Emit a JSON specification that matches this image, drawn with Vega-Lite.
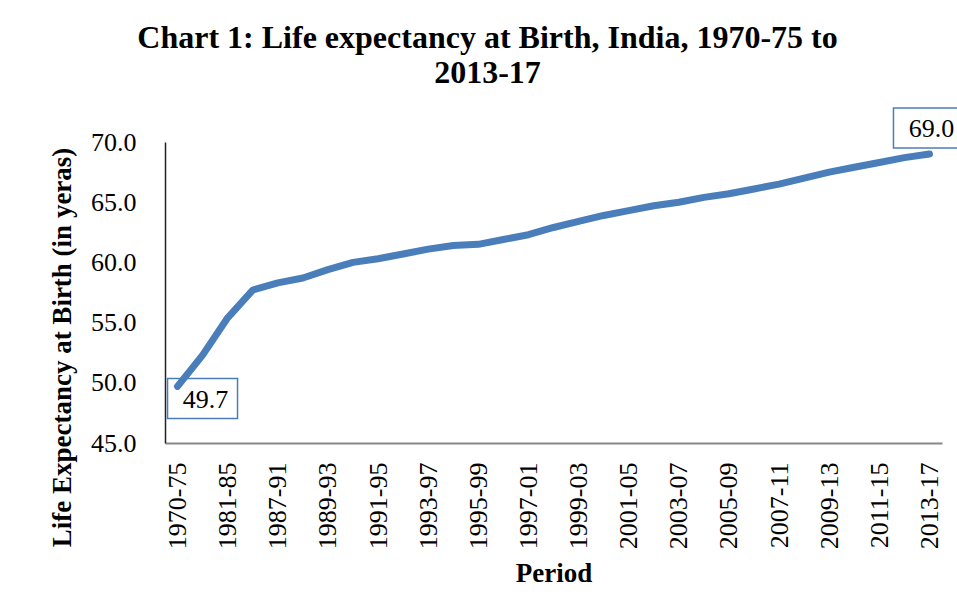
{
  "$schema": "https://vega.github.io/schema/vega-lite/v6.json",
  "width": 777,
  "height": 301,
  "autosize": {"type": "none"},
  "padding": {"left": 165, "top": 142, "right": 15, "bottom": 171},
  "background": "white",
  "config": {
    "font": "Liberation Serif",
    "view": {"stroke": null}
  },
  "title": {
    "text": ["Chart 1: Life expectancy at Birth, India, 1970-75 to", "2013-17"],
    "font": "Liberation Serif",
    "fontSize": 32,
    "fontWeight": "bold",
    "color": "#000000",
    "anchor": "middle",
    "dx": -66,
    "lineHeight": 35,
    "offset": 15
  },
  "data": {
    "values": [
      {"period": "1970-75", "le": 49.7},
      {"period": "1976-80", "le": 52.3},
      {"period": "1981-85", "le": 55.4},
      {"period": "1986-90", "le": 57.7},
      {"period": "1987-91", "le": 58.3},
      {"period": "1988-92", "le": 58.7},
      {"period": "1989-93", "le": 59.4},
      {"period": "1990-94", "le": 60.0},
      {"period": "1991-95", "le": 60.3},
      {"period": "1992-96", "le": 60.7},
      {"period": "1993-97", "le": 61.1},
      {"period": "1994-98", "le": 61.4},
      {"period": "1995-99", "le": 61.5},
      {"period": "1996-00", "le": 61.9},
      {"period": "1997-01", "le": 62.3},
      {"period": "1998-02", "le": 62.9},
      {"period": "1999-03", "le": 63.4},
      {"period": "2000-04", "le": 63.9},
      {"period": "2001-05", "le": 64.3},
      {"period": "2002-06", "le": 64.7},
      {"period": "2003-07", "le": 65.0},
      {"period": "2004-08", "le": 65.4},
      {"period": "2005-09", "le": 65.7},
      {"period": "2006-10", "le": 66.1},
      {"period": "2007-11", "le": 66.5},
      {"period": "2008-12", "le": 67.0},
      {"period": "2009-13", "le": 67.5},
      {"period": "2010-14", "le": 67.9},
      {"period": "2011-15", "le": 68.3},
      {"period": "2012-16", "le": 68.7},
      {"period": "2013-17", "le": 69.0}
    ]
  },
  "encoding": {
    "x": {
      "field": "period",
      "type": "ordinal",
      "sort": null,
      "scale": {"type": "point", "padding": 0.5},
      "axis": {
        "title": "Period",
        "titleFont": "Liberation Serif",
        "titleFontSize": 27,
        "titleFontWeight": "bold",
        "titleColor": "#000000",
        "titleY": 130,
        "titleBaseline": "middle",
        "values": ["1970-75", "1981-85", "1987-91", "1989-93", "1991-95", "1993-97", "1995-99", "1997-01", "1999-03", "2001-05", "2003-07", "2005-09", "2007-11", "2009-13", "2011-15", "2013-17"],
        "labelAngle": -90,
        "labelAlign": "right",
        "labelBaseline": "middle",
        "labelFont": "Liberation Serif",
        "labelFontSize": 26,
        "labelColor": "#000000",
        "labelPadding": 19,
        "labelOverlap": false,
        "ticks": false,
        "domainColor": "#888888",
        "domainWidth": 2,
        "grid": false
      }
    },
    "y": {
      "field": "le",
      "type": "quantitative",
      "scale": {"domain": [45, 70], "zero": false, "nice": false},
      "axis": {
        "title": "Life Expectancy at Birth (in yeras)",
        "titleFont": "Liberation Serif",
        "titleFontSize": 27,
        "titleFontWeight": "bold",
        "titleColor": "#000000",
        "titleAngle": -90,
        "titleAlign": "center",
        "titleBaseline": "middle",
        "titleX": -103,
        "titleY": 205,
        "values": [45, 50, 55, 60, 65, 70],
        "format": ".1f",
        "labelFont": "Liberation Serif",
        "labelFontSize": 26,
        "labelColor": "#000000",
        "labelPadding": 29,
        "ticks": false,
        "domainColor": "#222222",
        "domainWidth": 1.5,
        "grid": false
      }
    }
  },
  "layer": [
    {
      "mark": {"type": "line", "color": "#4a7ebb", "strokeWidth": 7, "strokeCap": "round", "strokeJoin": "round"}
    },
    {
      "transform": [{"filter": "datum.period == '1970-75'"}],
      "mark": {"type": "point", "shape": "M-1.75,-1H1.75V1H-1.75Z", "size": 1600, "filled": false, "stroke": "#4a7ebb", "strokeWidth": 1.5, "opacity": 1, "xOffset": 25, "yOffset": 12}
    },
    {
      "transform": [{"filter": "datum.period == '1970-75'"}],
      "mark": {"type": "text", "font": "Liberation Serif", "fontSize": 26, "color": "#000000", "align": "center", "baseline": "middle", "dx": 28, "dy": 14},
      "encoding": {"text": {"field": "le", "type": "quantitative", "format": ".1f"}}
    },
    {
      "transform": [{"filter": "datum.period == '2013-17'"}],
      "mark": {"type": "point", "shape": "M-1.75,-1H1.75V1H-1.75Z", "size": 1600, "filled": false, "stroke": "#4a7ebb", "strokeWidth": 1.5, "opacity": 1, "xOffset": -1, "yOffset": -26}
    },
    {
      "transform": [{"filter": "datum.period == '2013-17'"}],
      "mark": {"type": "text", "font": "Liberation Serif", "fontSize": 26, "color": "#000000", "align": "center", "baseline": "middle", "dx": 2, "dy": -25},
      "encoding": {"text": {"field": "le", "type": "quantitative", "format": ".1f"}}
    }
  ]
}
